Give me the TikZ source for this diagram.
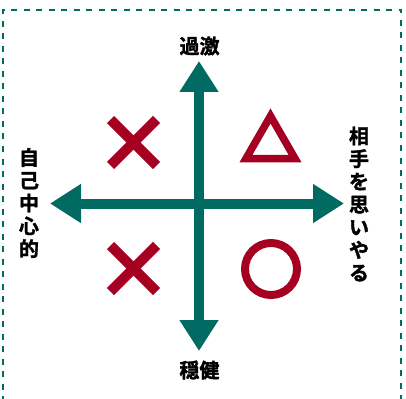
\documentclass[tikz,border=0pt]{standalone}
\usepackage{fontspec}
\newfontfamily\jp{Noto Sans CJK JP}[BoldFont={* Bold}, BoldFeatures={FakeBold=1.6}]
\usetikzlibrary{arrows.meta}
\definecolor{teal1}{HTML}{006A63}
\definecolor{red1}{HTML}{A50021}
\tikzset{
  axis/.style={line width=10pt, draw=teal1, {Triangle[length=31pt,width=37pt]}-{Triangle[length=31pt,width=37pt]}},
  lbl/.style={font=\jp\bfseries\fontsize{20}{22.8}\selectfont, inner sep=0pt, align=center, text=black},
  xmark/.style={draw=red1, line width=10pt, line cap=butt},
  frame/.style={draw=teal1, line width=2.2pt, dash pattern=on 6pt off 6.5pt}
}
\begin{document}
\begin{tikzpicture}[x=1pt,y=-1pt]
\useasboundingbox (0,0) rectangle (406,398);
\draw[frame] (3,402) |- (401,10) -- (401,402);
% axes
\coordinate (T) at (199,61);
\coordinate (B) at (199,351);
\coordinate (L) at (50,203.5);
\coordinate (R) at (344,203.5);
\draw[axis] (B) -- (T);
\draw[axis] (R) -- (L);
% labels
\node[lbl] (top) at (199.5,46) {過激};
\node[lbl] (bot) at (199.5,370) {穏健};
\node[lbl] (left) at (29,203) {自\\己\\中\\心\\的};
\node[lbl] (right) at (359,204) {相\\手\\を\\思\\い\\や\\る};
% marks
\coordinate (X1) at (133.5,142.5);
\coordinate (X2) at (133.5,268.5);
\path (X1) ++(-23,-23) coordinate (a1) (X1) ++(23,23) coordinate (b1)
      (X1) ++(23,-23) coordinate (c1) (X1) ++(-23,23) coordinate (d1)
      (X2) ++(-23,-23) coordinate (a2) (X2) ++(23,23) coordinate (b2)
      (X2) ++(23,-23) coordinate (c2) (X2) ++(-23,23) coordinate (d2);
\draw[xmark] (a1) -- (b1);
\draw[xmark] (c1) -- (d1);
\draw[xmark] (a2) -- (b2);
\draw[xmark] (c2) -- (d2);
\draw[draw=red1, line width=7.5pt, miter limit=4] (246,158.5) -- (295,158.5) -- (270.5,116) -- cycle;
\draw[draw=red1, line width=8pt] (271,269) circle[radius=26];
\end{tikzpicture}
\end{document}
